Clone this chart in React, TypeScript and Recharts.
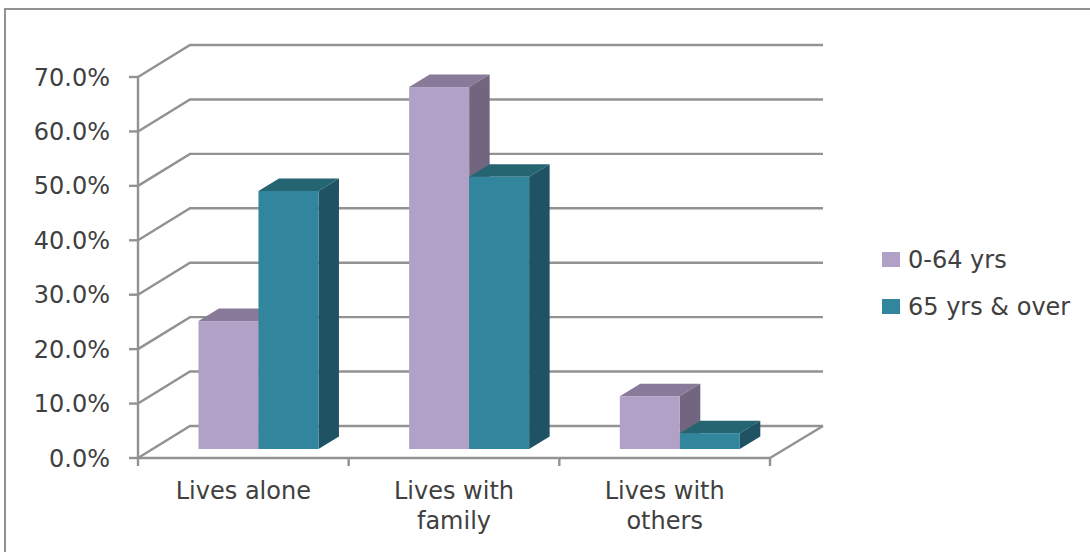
import React from "react";
import { BarChart, Bar, XAxis, YAxis, CartesianGrid, Legend } from "recharts";

const categories = ["Lives alone", "Lives with family", "Lives with others"];
const youngerValues = [23.5, 66.5, 9.7];
const olderValues = [47.4, 50.0, 2.9];
const valueTicks = [0, 10, 20, 30, 40, 50, 60, 70];
const youngerName = "0-64 yrs";
const olderName = "65 yrs & over";

const rows = categories.map((name, i) => ({
  name,
  younger: youngerValues[i],
  older: olderValues[i],
}));

const WIDTH = 1090;
const HEIGHT = 552;
const LEGEND_WIDTH = 205;
const PLOT_RIGHT = 320;
const X_AXIS_HEIGHT = 94;
// The legend's own width is added to the right margin by the chart layout.
const MARGIN = { top: 77, right: PLOT_RIGHT - LEGEND_WIDTH, bottom: 0, left: 0 };
const AXIS_WIDTH = 138;
const FLOOR_Y = HEIGHT - X_AXIS_HEIGHT;
const BAND = (WIDTH - PLOT_RIGHT - AXIS_WIDTH) / categories.length;

// Oblique projection: the back wall sits up and to the right of the front plane.
const WALL_DX = 52;
const WALL_DY = -32;
// Bars stand midway on the floor and have their own shallower depth.
const BAR_SHIFT_X = 15.6;
const BAR_SHIFT_Y = -9;
const BAR_DX = 20.5;
const BAR_DY = -12.5;

const AXIS_COLOR = "#929292";
const LINE_WIDTH = 2.4;
const TEXT_COLOR = "#404040";
const FONT = "'DejaVu Sans', sans-serif";
const FONT_SIZE = 24;

const GridLine = (props: any) => {
  const { x1, y1, x2, y2, index } = props;
  const isFloor = Math.abs(y1 - FLOOR_Y) < 0.5;
  const backY = y1 + WALL_DY;
  return (
    <g key={`wall-${index}`} fill="none" stroke={AXIS_COLOR} strokeWidth={LINE_WIDTH}>
      <polyline points={`${x1},${y1} ${x1 + WALL_DX},${backY} ${x2 + WALL_DX + 1},${backY}`} />
      {isFloor && <line x1={x2} y1={y2} x2={x2 + WALL_DX + 1} y2={backY} />}
    </g>
  );
};

const Box = (props: any) => {
  const { x, y, width, height, fill, topFill, sideFill } = props;
  const l = x + BAR_SHIFT_X;
  const r = l + width;
  const t = y + BAR_SHIFT_Y;
  const b = t + height;
  return (
    <g>
      <polygon
        points={`${l},${t} ${l + BAR_DX},${t + BAR_DY} ${r + BAR_DX},${t + BAR_DY} ${r},${t}`}
        fill={topFill}
      />
      <polygon
        points={`${r},${t} ${r + BAR_DX},${t + BAR_DY} ${r + BAR_DX},${b + BAR_DY} ${r},${b}`}
        fill={sideFill}
      />
      <rect x={l} y={t} width={width} height={height} fill={fill} />
    </g>
  );
};

// Category labels wrap after two words; tick marks sit on the band edges.
const CategoryTick = (props: any) => {
  const { x, payload, index } = props;
  const words = String(payload.value).split(" ");
  const lines = words.length > 2 ? [words.slice(0, 2).join(" "), words.slice(2).join(" ")] : [words.join(" ")];
  return (
    <g>
      <line x1={x - BAND / 2} y1={FLOOR_Y} x2={x - BAND / 2} y2={FLOOR_Y + 8} stroke={AXIS_COLOR} strokeWidth={LINE_WIDTH} />
      {index === categories.length - 1 && (
        <line x1={x + BAND / 2} y1={FLOOR_Y} x2={x + BAND / 2} y2={FLOOR_Y + 8} stroke={AXIS_COLOR} strokeWidth={LINE_WIDTH} />
      )}
      <text x={x} textAnchor="middle" fontFamily={FONT} fontSize={FONT_SIZE} fill={TEXT_COLOR}>
        {lines.map((line, i) => (
          <tspan key={i} x={x} y={FLOOR_Y + 41 + i * 30}>
            {line}
          </tspan>
        ))}
      </text>
    </g>
  );
};

const LegendBlock = ({ payload }: any) => (
  <div style={{ fontFamily: FONT, fontSize: FONT_SIZE, color: TEXT_COLOR }}>
    {(payload || []).map((entry: any) => (
      <div key={entry.value} style={{ display: "flex", alignItems: "center", height: 47 }}>
        <span style={{ width: 18, height: 15, background: entry.color, marginRight: 8, flex: "none" }} />
        <span style={{ whiteSpace: "nowrap" }}>{entry.value}</span>
      </div>
    ))}
  </div>
);

export default function App() {
  return (
    <div
      style={{
        position: "absolute",
        left: 0,
        top: 0,
        width: WIDTH,
        height: HEIGHT,
        overflow: "hidden",
        background: "#fff",
      }}
    >
      <div
        style={{
          position: "absolute",
          left: 4,
          top: 8,
          right: 0,
          bottom: 0,
          borderLeft: `2px solid ${AXIS_COLOR}`,
          borderTop: `2px solid ${AXIS_COLOR}`,
        }}
      />
      <BarChart
        width={WIDTH}
        height={HEIGHT}
        data={rows}
        margin={MARGIN}
        barGap={0}
        barCategoryGap="21.3%"
        style={{ position: "absolute", left: 0, top: 0 }}
      >
        <CartesianGrid vertical={false} horizontal={(p: any) => <GridLine {...p} />} />
        <XAxis
          dataKey="name"
          height={X_AXIS_HEIGHT}
          interval={0}
          tickLine={false}
          axisLine={{ stroke: AXIS_COLOR, strokeWidth: LINE_WIDTH }}
          tick={<CategoryTick />}
        />
        <YAxis
          width={AXIS_WIDTH}
          domain={[0, 70]}
          ticks={valueTicks}
          interval={0}
          tickSize={9}
          tickMargin={19}
          tickFormatter={(v: number) => `${v.toFixed(1)}%`}
          axisLine={{ stroke: AXIS_COLOR, strokeWidth: LINE_WIDTH }}
          tickLine={{ stroke: AXIS_COLOR, strokeWidth: LINE_WIDTH }}
          tick={{ fontFamily: FONT, fontSize: FONT_SIZE, fill: TEXT_COLOR }}
        />
        <Legend
          layout="vertical"
          verticalAlign="top"
          align="right"
          content={<LegendBlock />}
          wrapperStyle={{ left: 882, top: 236, width: LEGEND_WIDTH, right: "auto", bottom: "auto" }}
        />
        <Bar
          dataKey="younger"
          name={youngerName}
          fill="#B2A1C7"
          isAnimationActive={false}
          shape={(p: any) => <Box {...p} topFill="#887A99" sideFill="#716580" />}
        />
        <Bar
          dataKey="older"
          name={olderName}
          fill="#31859C"
          isAnimationActive={false}
          shape={(p: any) => <Box {...p} topFill="#256572" sideFill="#1F5364" />}
        />
      </BarChart>
    </div>
  );
}
